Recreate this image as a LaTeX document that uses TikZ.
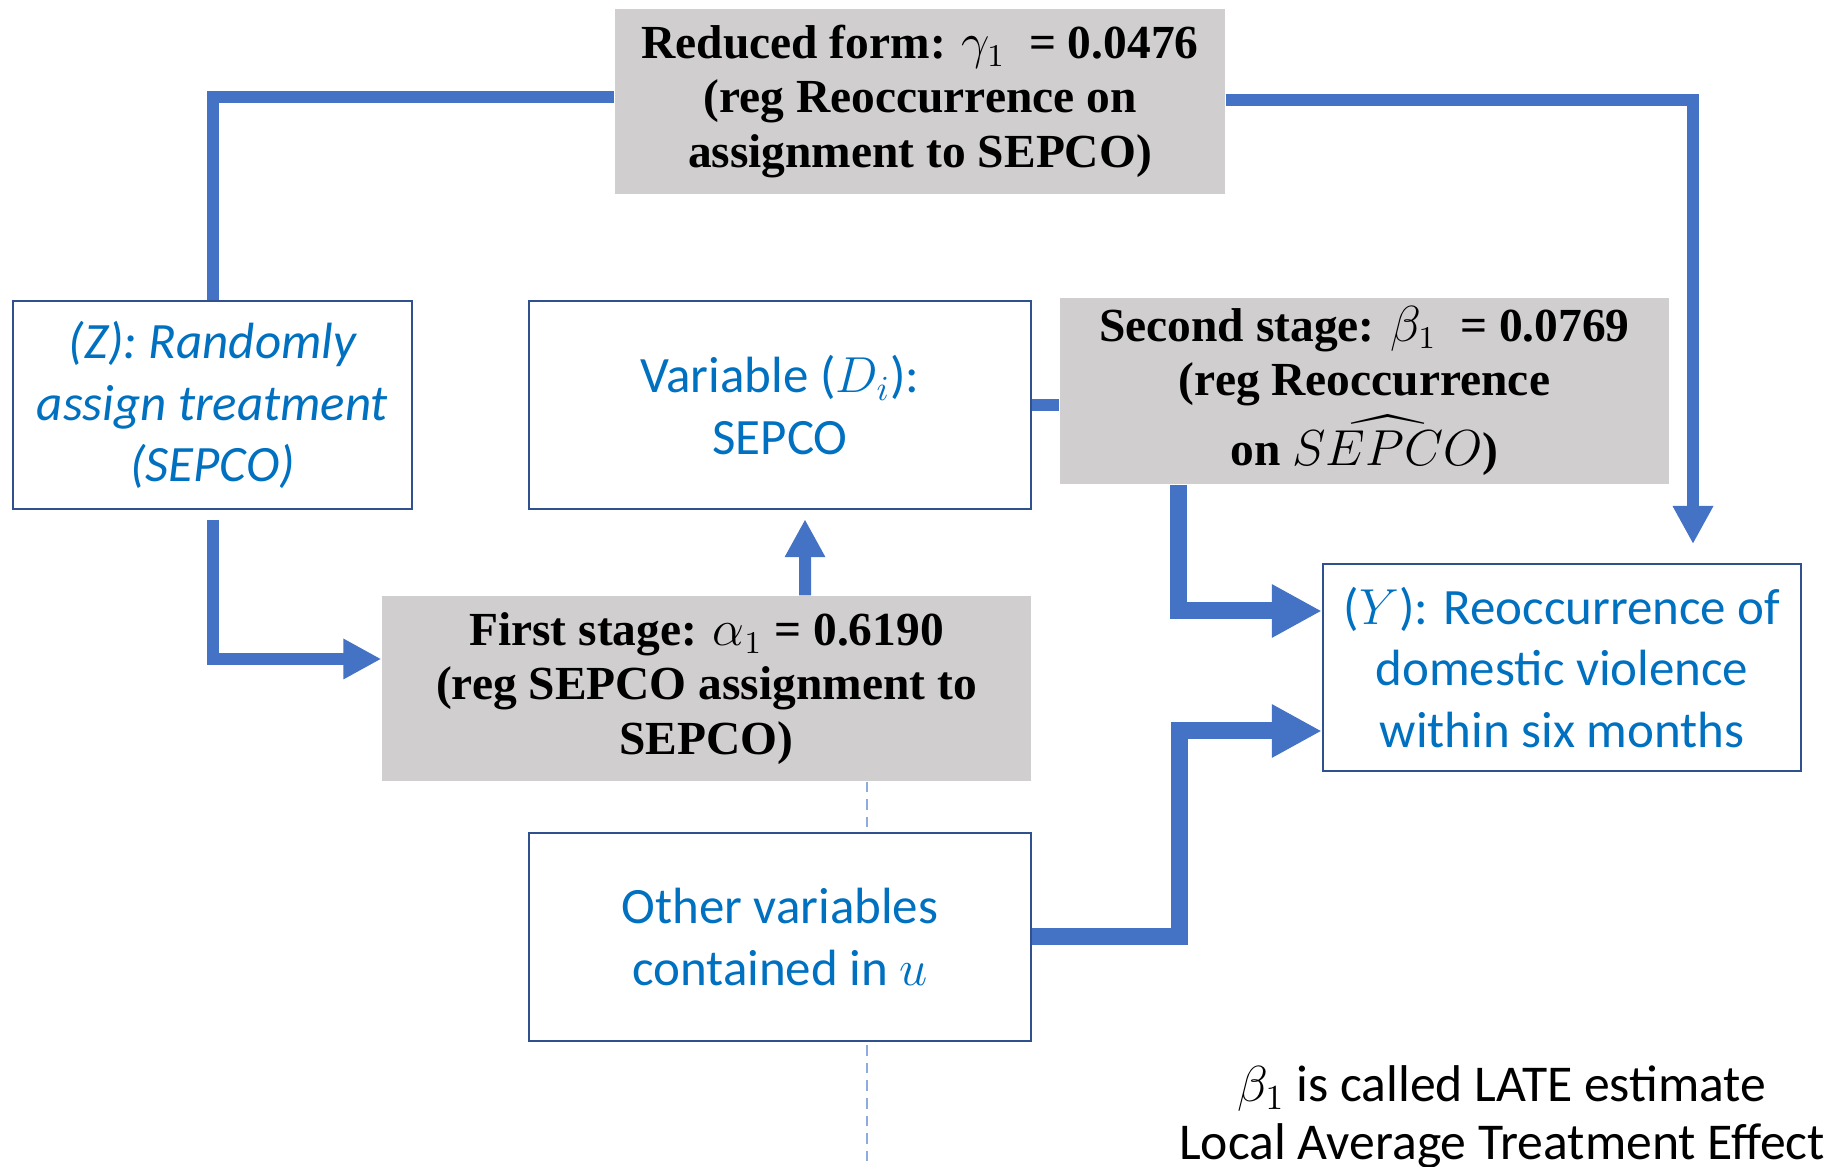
\documentclass[tikz,border=0pt]{standalone}
\usepackage{amsmath}
\usepackage{fontspec}
\setmainfont{Carlito}
\newfontfamily\stageFont{Liberation Serif}
\usetikzlibrary{positioning, arrows.meta, calc}
\definecolor{flowBlue}{HTML}{4472C4}
\definecolor{edgeBlue}{HTML}{2F528F}
\definecolor{labelBlue}{HTML}{0070C0}
\definecolor{stageGray}{HTML}{D0CECE}
\definecolor{guideBlue}{HTML}{8FAADC}

\begin{document}
\begin{tikzpicture}[
    varBox/.style={draw=edgeBlue, line width=0.7pt, rectangle, fill=white, align=center, text=labelBlue, inner sep=0pt, minimum width=5.02cm, minimum height=2.08cm, font=\fontsize{14.5}{17.4}\selectfont},
    stageBox/.style={fill=stageGray, rectangle, align=center, inner sep=0pt, minimum height=1.85cm, font=\stageFont\bfseries\fontsize{13.5}{15.4}\selectfont},
    link/.style={draw=flowBlue, line width=0.12cm, >={Triangle[width=0.38cm, length=0.38cm]}},
    linkThick/.style={draw=flowBlue, line width=0.17cm, >={Triangle[width=0.5cm, length=0.5cm]}},
    guide/.style={draw=guideBlue, line width=0.4pt, dash pattern=on 3pt off 2pt},
    note/.style={align=center, font=\fontsize{14.7}{16.5}\selectfont},
]
\useasboundingbox (0,0) rectangle (18.32,-11.67);
% dashed guide behind the boxes
\coordinate (guideEnd) at (8.67,-11.67);
\node[stageBox, minimum width=6.49cm] (first) at (7.065,-6.885) {First stage: $\alpha_1$ = 0.6190\\(reg SEPCO assignment to\\SEPCO)};
\draw[guide] (first.south -| guideEnd) -- (guideEnd);
\node[stageBox, minimum width=6.10cm] (reduced) at (9.20,-1.015) {Reduced form: $\gamma_1$ \ = 0.0476\\(reg Reoccurrence on\\assignment to SEPCO)};
\node[stageBox, minimum width=6.09cm, minimum height=1.86cm] (second) at (13.645,-3.91) {Second stage: $\beta_1$ \ = 0.0769\\(reg Reoccurrence\\[0.06cm]on $\widehat{SEPCO}$)};
\node[varBox, minimum width=3.99cm, font=\itshape\fontsize{14.5}{17.4}\selectfont] (zbox) at (2.125,-4.05) {(Z): Randomly\\assign treatment\\(SEPCO)};
\node[varBox] (dbox) at (7.80,-4.05) {Variable ($D_i$):\\SEPCO};
\node[varBox, minimum width=4.78cm, minimum height=2.07cm] (ybox) at (15.62,-6.675) {($Y$): Reoccurrence of\\domestic violence\\within six months};
\node[varBox] (other) at (7.80,-9.37) {Other variables\\contained in $u$};
\node[note] (late) at (15.02,-11.17) {$\beta_1$ is called LATE estimate\\Local Average Treatment Effect};
% connectors
\coordinate (yArrow) at (16.93,-5.44);
\draw[link] (zbox.north) |- ([yshift=0.045cm]reduced.west);
\draw[link, ->] ([yshift=0.015cm]reduced.east) -| (yArrow);
\draw[link, ->] ([yshift=-0.1cm]zbox.south) |- ([yshift=0.295cm]first.west);
\draw[link, ->] ([xshift=0.985cm]first.north) -- ([xshift=0.25cm, yshift=-0.09cm]dbox.south);
\draw[link] (dbox.east) -- (dbox.east -| second.west);
\draw[linkThick, ->] ([xshift=-1.865cm]second.south) |- ([yshift=0.565cm]ybox.west);
\draw[linkThick, ->] (other.east) -- ++(1.47,0) |- ([yshift=-0.635cm]ybox.west);
\end{tikzpicture}
\end{document}
